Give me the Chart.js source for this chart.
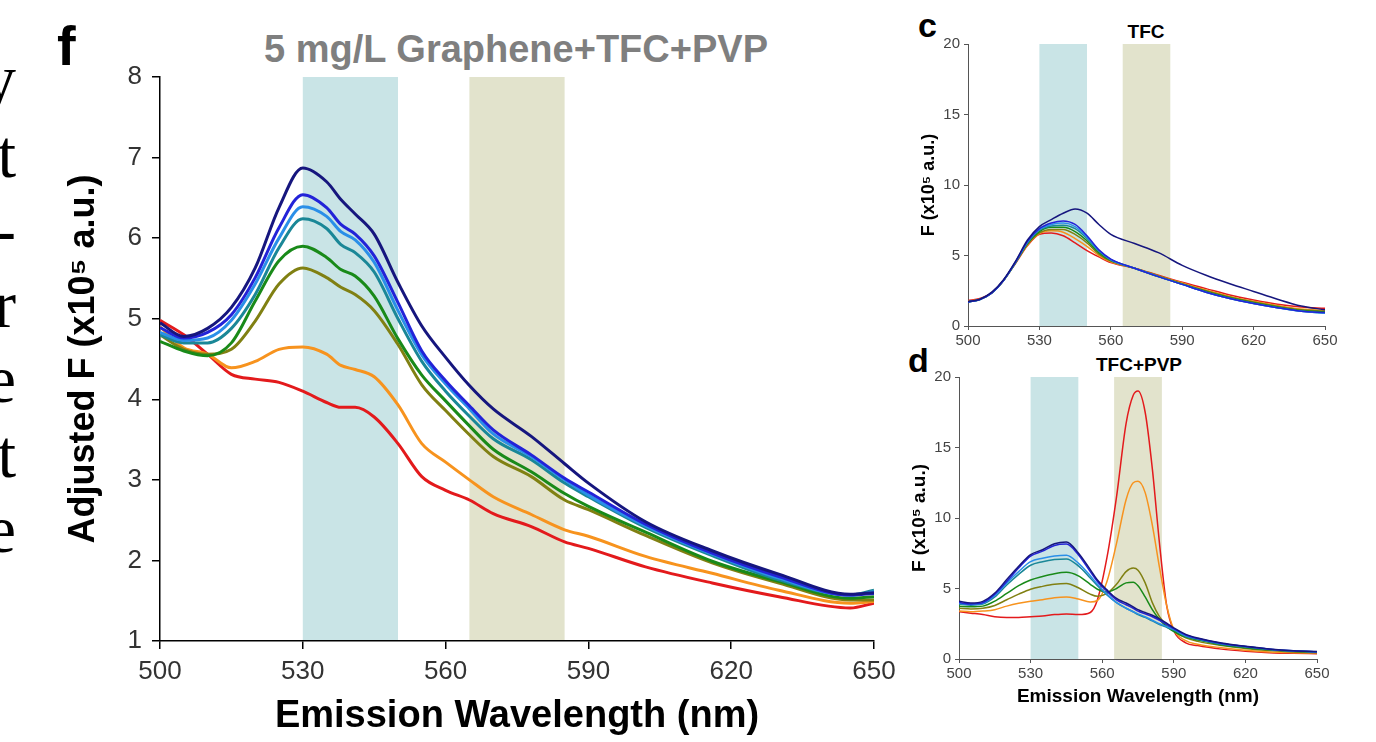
<!DOCTYPE html>
<html>
<head>
<meta charset="utf-8">
<script src="https://cdn.jsdelivr.net/npm/chart.js@4.4.1/dist/chart.umd.min.js"></script>
<style>
  body { margin: 0; background: #fff; width: 1376px; height: 742px; overflow: hidden; position: relative; font-family: 'Liberation Sans', Arial, sans-serif; }
  canvas { position: absolute; }
  .lbl { position: absolute; line-height: 1; white-space: nowrap; font-weight: bold; color: #000; }
  #para { position: absolute; left: -184px; top: 42px; width: 200px; text-align: right; font: 67px/75px 'Liberation Serif', 'Times New Roman', serif; color: #000; }
</style>
</head>
<body>
<div id="para">y<br>t<br>-<br>r<br>e<br>t<br>e</div>
<div class="lbl" style="left:57px; top:18px; font-size:56px;">f</div>
<div class="lbl" style="left:516px; top:30px; font-size:38px; color:#7f7f7f; transform:translateX(-50%);">5 mg/L Graphene+TFC+PVP</div>
<div class="lbl" style="left:918px; top:8px; font-size:34px;">c</div>
<div class="lbl" style="left:1146px; top:22px; font-size:19px; transform:translateX(-50%);">TFC</div>
<div class="lbl" style="left:908px; top:343px; font-size:34px;">d</div>
<div class="lbl" style="left:1139px; top:355px; font-size:19px; transform:translateX(-50%);">TFC+PVP</div>

<canvas id="main" width="905" height="742" style="left:0;top:0"></canvas>
<canvas id="tfc" width="440" height="360" style="left:905px;top:0"></canvas>
<canvas id="pvp" width="440" height="402" style="left:905px;top:340px"></canvas>

<script>
// shaded emission windows (nm)
const bands = [[530, 550], [565, 585]];

// panel f: 5 mg/L Graphene+TFC+PVP, adjusted F (x10^5 a.u.)
const mainWl = [500,505,510,515,520,525,530,535,538,541,545,550,555,560,565,570,578,585,590,602,616,630,645,650];
const gNavy   = [4.95,4.78,4.88,5.14,5.63,6.38,6.87,6.70,6.48,6.30,6.05,5.45,4.91,4.52,4.17,3.88,3.54,3.20,2.96,2.48,2.12,1.83,1.58,1.60];
const gBlue   = [4.89,4.76,4.83,5.05,5.51,6.13,6.54,6.38,6.17,6.05,5.78,5.20,4.60,4.23,3.92,3.62,3.31,3.02,2.85,2.45,2.09,1.80,1.57,1.59];
const gSky    = [4.83,4.73,4.76,4.98,5.43,6.00,6.39,6.27,6.08,5.98,5.70,5.10,4.55,4.19,3.88,3.57,3.29,3.00,2.81,2.43,2.08,1.78,1.57,1.61];
const gTeal   = [4.80,4.70,4.70,4.88,5.30,5.88,6.24,6.12,5.92,5.82,5.58,5.00,4.47,4.10,3.79,3.51,3.25,2.96,2.79,2.41,2.06,1.76,1.57,1.63];
const gGreen  = [4.72,4.60,4.54,4.70,5.22,5.72,5.90,5.76,5.61,5.53,5.28,4.75,4.30,3.98,3.67,3.38,3.10,2.83,2.67,2.35,1.99,1.74,1.53,1.55];
const gOlive  = [4.80,4.62,4.56,4.62,4.97,5.43,5.63,5.51,5.39,5.30,5.10,4.68,4.18,3.86,3.56,3.29,3.04,2.75,2.63,2.31,1.97,1.72,1.51,1.51];
const gOrange = [4.90,4.64,4.56,4.39,4.47,4.62,4.65,4.56,4.42,4.37,4.28,3.93,3.45,3.22,3.00,2.79,2.57,2.38,2.30,2.05,1.84,1.63,1.47,1.49];
const gRed    = [4.98,4.80,4.56,4.31,4.25,4.21,4.10,3.96,3.90,3.90,3.78,3.45,3.04,2.87,2.75,2.58,2.42,2.23,2.15,1.92,1.72,1.55,1.41,1.47];

// panel c: TFC
const tfcWl = [500,505,510,515,520,525,530,535,540,545,550,555,560,570,580,590,600,610,620,630,640,650];
const tNavy   = [1.73,1.90,2.40,3.30,4.60,6.10,7.05,7.55,8.00,8.30,8.00,7.20,6.50,5.85,5.20,4.30,3.60,3.00,2.45,1.90,1.42,1.15];
const tBlue   = [1.70,1.88,2.35,3.25,4.55,6.00,6.90,7.30,7.45,7.20,6.40,5.40,4.75,4.10,3.50,2.95,2.40,1.95,1.60,1.30,1.05,0.95];
const tSky    = [1.70,1.88,2.35,3.25,4.55,5.95,6.85,7.20,7.30,7.05,6.30,5.35,4.70,4.10,3.50,2.95,2.40,1.95,1.60,1.30,1.05,0.90];
const tTeal   = [1.70,1.88,2.35,3.25,4.50,5.90,6.80,7.10,7.15,6.90,6.20,5.30,4.70,4.10,3.50,2.95,2.40,1.95,1.60,1.30,1.05,0.92];
const tGreen  = [1.70,1.88,2.35,3.25,4.50,5.85,6.70,7.00,7.00,6.70,6.05,5.20,4.65,4.10,3.50,2.97,2.45,2.00,1.65,1.35,1.10,1.00];
const tOlive  = [1.72,1.90,2.35,3.25,4.50,5.80,6.60,6.85,6.85,6.50,5.90,5.10,4.60,4.10,3.55,3.00,2.50,2.05,1.70,1.40,1.15,1.05];
const tOrange = [1.75,1.90,2.35,3.25,4.50,5.75,6.55,6.75,6.65,6.20,5.65,5.00,4.55,4.10,3.55,3.05,2.55,2.10,1.75,1.45,1.20,1.10];
const tRed    = [1.80,1.95,2.35,3.25,4.45,5.70,6.50,6.60,6.40,5.90,5.35,4.90,4.50,4.10,3.60,3.10,2.65,2.20,1.85,1.55,1.35,1.25];

// panel d: TFC+PVP
const pvpWl = [500,505,510,515,520,525,530,535,540,545,550,555,558,562,566,570,573,575,578,581,584,587,590,595,600,610,620,630,640,650];
const pNavy   = [4.09,3.97,4.09,4.68,5.63,6.57,7.40,7.75,8.18,8.30,7.52,6.34,5.60,4.90,4.30,3.97,3.70,3.50,3.30,3.10,2.85,2.55,2.20,1.75,1.49,1.13,0.90,0.71,0.59,0.54];
const pBlue   = [4.00,3.90,4.00,4.60,5.50,6.45,7.30,7.65,8.05,8.15,7.40,6.20,5.50,4.80,4.20,3.85,3.60,3.40,3.20,3.00,2.75,2.45,2.15,1.70,1.45,1.10,0.88,0.70,0.58,0.52];
const pSky    = [3.95,3.88,3.95,4.50,5.40,6.20,6.90,7.15,7.30,7.35,6.80,5.90,5.30,4.60,4.00,3.60,3.35,3.20,3.00,2.75,2.50,2.30,2.10,1.65,1.45,1.10,0.88,0.70,0.58,0.52];
const pTeal   = [3.90,3.82,3.90,4.40,5.25,6.00,6.65,6.90,7.05,7.10,6.60,5.75,5.20,4.55,4.00,3.60,3.35,3.15,2.95,2.70,2.45,2.25,2.05,1.60,1.40,1.05,0.85,0.68,0.56,0.50];
const pGreen  = [3.75,3.70,3.75,4.10,4.65,5.20,5.60,5.85,6.05,6.15,5.90,5.30,4.95,4.75,5.00,5.40,5.45,5.20,4.40,3.50,2.80,2.30,1.95,1.55,1.35,1.00,0.80,0.65,0.55,0.50];
const pOlive  = [3.60,3.55,3.60,3.80,4.20,4.60,4.95,5.15,5.30,5.35,5.05,4.60,4.45,4.65,5.30,6.20,6.45,6.30,5.40,4.00,3.00,2.40,2.00,1.50,1.25,0.95,0.75,0.60,0.50,0.45];
const pOrange = [3.40,3.35,3.40,3.50,3.75,3.95,4.10,4.20,4.35,4.40,4.25,4.05,4.15,5.50,8.20,11.30,12.50,12.60,11.80,9.50,6.50,3.80,2.10,1.30,1.05,0.80,0.62,0.50,0.45,0.42];
const pRed    = [3.35,3.25,3.15,3.00,2.95,2.95,3.00,3.05,3.15,3.20,3.15,3.30,4.20,7.20,11.50,16.70,18.70,19.00,17.50,13.50,8.20,3.80,2.00,1.15,0.95,0.70,0.55,0.45,0.40,0.38];

const xTicks = [500, 530, 560, 590, 620, 650];

const colors = ['#16167e', '#2323d8', '#2a8fe8', '#1a8797', '#198a19', '#808012', '#f7931e', '#e31a1c'];
const bandColors = ['rgb(201,228,230)', 'rgb(226,227,204)'];

Chart.defaults.font.family = "'Liberation Sans', Arial, sans-serif";
Chart.defaults.color = '#333';

const bandPlugin = {
  id: 'bands',
  beforeDraw(chart) {
    const { ctx, chartArea, scales: { x } } = chart;
    ctx.save();
    bands.forEach((b, i) => {
      const x0 = x.getPixelForValue(b[0]);
      const x1 = x.getPixelForValue(b[1]);
      ctx.fillStyle = bandColors[i];
      ctx.fillRect(x0, chartArea.top, x1 - x0, chartArea.bottom - chartArea.top);
    });
    ctx.restore();
  }
};

function toPts(wl, ys) {
  return wl.map((w, i) => ({ x: w, y: ys[i] }));
}

function makeChart(id, wl, series, o) {
  const datasets = series.map((s, i) => ({
    data: toPts(wl, s),
    borderColor: colors[i],
    borderWidth: o.lw,
    pointRadius: 0,
    fill: false,
    cubicInterpolationMode: 'monotone'
  }));
  return new Chart(document.getElementById(id), {
    type: 'line',
    data: { datasets },
    plugins: [bandPlugin],
    options: {
      responsive: false,
      animation: false,
      devicePixelRatio: 1,
      layout: { padding: o.pad },
      plugins: { legend: { display: false }, tooltip: { enabled: false } },
      scales: {
        x: {
          type: 'linear', min: 500, max: 650,
          afterBuildTicks: s => { s.ticks = xTicks.map(v => ({ value: v })); },
          afterFit: s => { s.height = o.xh; },
          grid: { drawOnChartArea: false, tickLength: o.tl, color: o.axis, lineWidth: o.aw },
          border: { color: o.axis, width: o.aw },
          ticks: { font: { size: o.fs }, padding: o.xp, color: o.tc, maxRotation: 0 },
          title: o.xt ? { display: true, text: 'Emission Wavelength (nm)', color: '#000',
                          font: { size: o.xtf, weight: 'bold' }, padding: { top: 0, bottom: o.xtp } } : { display: false }
        },
        y: {
          min: o.ymin, max: o.ymax,
          afterFit: s => { s.width = o.yw; },
          grid: { drawOnChartArea: false, tickLength: o.tl, color: o.axis, lineWidth: o.aw },
          border: { color: o.axis, width: o.aw },
          ticks: { stepSize: o.step, font: { size: o.fs }, padding: o.yp, color: o.tc },
          title: { display: true, text: o.yt, color: '#000', font: { size: o.ytf, weight: 'bold' },
                   padding: { top: o.ytp, bottom: 0 } }
        }
      }
    }
  });
}

makeChart('main', mainWl, [gNavy, gBlue, gSky, gTeal, gGreen, gOlive, gOrange, gRed], {
  lw: 3, pad: { left: 60, right: 31, top: 77, bottom: 0 }, xh: 101, yw: 100,
  tl: 8, axis: '#000', aw: 1.5, fs: 26, xp: 7, yp: 10, tc: '#333',
  xt: true, xtf: 38, xtp: 3, ymin: 1, ymax: 8, step: 1,
  yt: 'Adjusted F (x10\u2075 a.u.)', ytf: 36, ytp: 2
});

makeChart('tfc', tfcWl, [tNavy, tBlue, tSky, tTeal, tGreen, tOlive, tOrange, tRed], {
  lw: 1.5, pad: { left: 0, right: 20, top: 44, bottom: 0 }, xh: 34, yw: 63,
  tl: 4, axis: '#555', aw: 1, fs: 15, xp: 2, yp: 4, tc: '#444',
  xt: false, ymin: 0, ymax: 20, step: 5,
  yt: 'F (x10\u2075 a.u.)', ytf: 18, ytp: 13
});

makeChart('pvp', pvpWl, [pNavy, pBlue, pSky, pTeal, pGreen, pOlive, pOrange, pRed], {
  lw: 1.5, pad: { left: 0, right: 28, top: 37, bottom: 0 }, xh: 83, yw: 54,
  tl: 4, axis: '#555', aw: 1, fs: 15, xp: 2, yp: 4, tc: '#444',
  xt: true, xtf: 19, xtp: 34, ymin: 0, ymax: 20, step: 5,
  yt: 'F (x10\u2075 a.u.)', ytf: 19, ytp: 3
});
</script>
</body>
</html>
